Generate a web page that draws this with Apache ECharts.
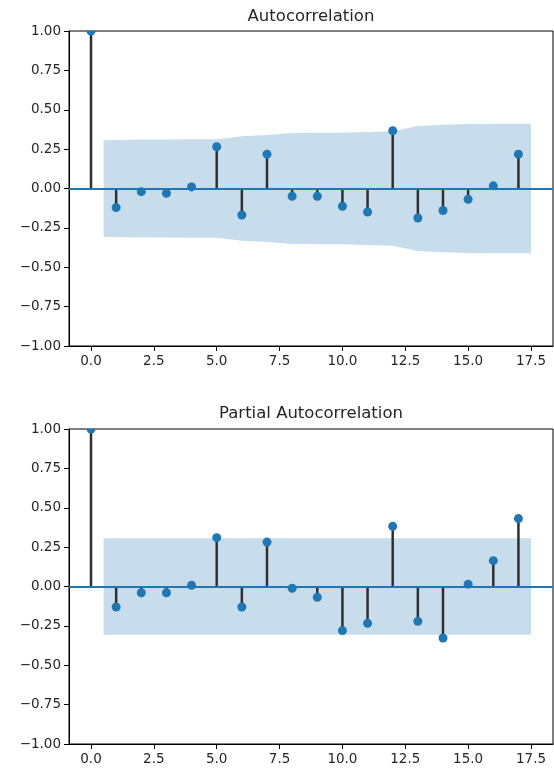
<!DOCTYPE html>
<html>
<head>
<meta charset="utf-8">
<script src="https://cdn.jsdelivr.net/npm/echarts@6/dist/echarts.min.js"></script>
<style>
  html, body { margin: 0; padding: 0; background: #fff; }
  #chart { width: 554px; height: 769px; }
</style>
</head>
<body>
<div id="chart"></div>
<script>
// Lags shown on both panels
const lags = [0, 1, 2, 3, 4, 5, 6, 7, 8, 9, 10, 11, 12, 13, 14, 15, 16, 17];

// Sample autocorrelation per lag
const acfValues = [1.0, -0.121, -0.02, -0.03, 0.01, 0.265, -0.168, 0.218, -0.049, -0.049,
                   -0.113, -0.149, 0.367, -0.187, -0.14, -0.068, 0.017, 0.218];

// Sample partial autocorrelation per lag
const pacfValues = [1.0, -0.13, -0.04, -0.04, 0.008, 0.31, -0.13, 0.282, -0.011, -0.068,
                    -0.28, -0.234, 0.382, -0.221, -0.327, 0.015, 0.164, 0.431];

// Confidence band positions (first and last lag widened by half a step)
const bandX = [0.5, 2, 3, 4, 5, 6, 7, 8, 9, 10, 11, 12, 13, 14, 15, 16, 17.5];

// 95% confidence band around zero for the ACF
const acfBandUpper = [0.307, 0.311, 0.311, 0.312, 0.312, 0.332, 0.340, 0.353, 0.354,
                      0.354, 0.358, 0.363, 0.397, 0.405, 0.410, 0.411, 0.411];
const acfBandLower = [-0.307, -0.311, -0.311, -0.312, -0.312, -0.332, -0.340, -0.353, -0.354,
                      -0.354, -0.358, -0.363, -0.397, -0.405, -0.410, -0.411, -0.411];

// 95% confidence band around zero for the PACF
const pacfBandUpper = [0.307, 0.307, 0.307, 0.307, 0.307, 0.307, 0.307, 0.307, 0.307,
                       0.307, 0.307, 0.307, 0.307, 0.307, 0.307, 0.307, 0.307];
const pacfBandLower = [-0.307, -0.307, -0.307, -0.307, -0.307, -0.307, -0.307, -0.307, -0.307,
                       -0.307, -0.307, -0.307, -0.307, -0.307, -0.307, -0.307, -0.307];

// Axis ticks
const xTicks = [0, 2.5, 5, 7.5, 10, 12.5, 15, 17.5];
const yTicks = [-1, -0.75, -0.5, -0.25, 0, 0.25, 0.5, 0.75, 1];

const panelTitles = ['Autocorrelation', 'Partial Autocorrelation'];

const FONT = '"DejaVu Sans", Verdana, sans-serif';
const BLUE = '#1f77b4';
const BAND = 'rgba(31,119,180,0.25)';
const STEM = '#2f2f2f';
const TEXT = '#262626';

const fmtNum = (v, d) => {
  const s = Math.abs(v).toFixed(d);
  return v < 0 ? '\u2212' + s : s;
};

const grids = [
  { left: 69, right: 1, top: 31, height: 315 },
  { left: 69, right: 1, top: 429, height: 315 }
];

function xAxisFor(i) {
  return {
    type: 'value', gridIndex: i, min: -0.875, max: 18.375,
    splitLine: { show: false },
    axisLine: { show: true, onZero: false, lineStyle: { color: '#000', width: 1 } },
    axisTick: { show: true, length: 5, customValues: xTicks, lineStyle: { color: '#000', width: 1 } },
    axisLabel: {
      customValues: xTicks, margin: 8, color: TEXT, fontFamily: FONT, fontSize: 13.5,
      formatter: v => fmtNum(v, 1)
    }
  };
}

function yAxisFor(i) {
  return {
    type: 'value', gridIndex: i, min: -1, max: 1, interval: 0.25,
    splitLine: { show: false },
    axisLine: { show: true, onZero: false, lineStyle: { color: '#000', width: 1 } },
    axisTick: { show: true, length: 5, lineStyle: { color: '#000', width: 1 } },
    axisLabel: {
      margin: 8, color: TEXT, fontFamily: FONT, fontSize: 13.5,
      formatter: v => fmtNum(v, 2)
    }
  };
}

function bandSeries(i, values) {
  return {
    type: 'line', xAxisIndex: i, yAxisIndex: i, z: 1,
    data: bandX.map((x, k) => [x, values[k]]),
    showSymbol: false, symbol: 'none', silent: true,
    lineStyle: { width: 0, opacity: 0 },
    areaStyle: { color: BAND, opacity: 1, origin: 0 }
  };
}

function stemSeries(i, values) {
  return {
    type: 'custom', xAxisIndex: i, yAxisIndex: i, z: 2, clip: true, silent: true,
    data: lags.map((l, k) => [l, values[k]]),
    renderItem(params, api) {
      const x = api.value(0), y = api.value(1);
      const p0 = api.coord([x, 0]);
      const p1 = api.coord([x, y]);
      return {
        type: 'line',
        shape: { x1: p0[0], y1: p0[1], x2: p1[0], y2: p1[1] },
        style: { stroke: STEM, lineWidth: 2.5 }
      };
    }
  };
}

function zeroLineSeries(i) {
  return {
    type: 'line', xAxisIndex: i, yAxisIndex: i, z: 3, silent: true,
    data: [], symbol: 'none',
    markLine: {
      silent: true, symbol: 'none', animation: false,
      label: { show: false },
      lineStyle: { color: BLUE, width: 2, type: 'solid' },
      data: [{ yAxis: 0 }]
    }
  };
}

function dotSeries(i, values) {
  return {
    type: 'custom', xAxisIndex: i, yAxisIndex: i, z: 4, clip: true, silent: true,
    data: lags.map((l, k) => [l, values[k]]),
    renderItem(params, api) {
      const p = api.coord([api.value(0), api.value(1)]);
      return {
        type: 'circle',
        shape: { cx: p[0], cy: p[1], r: 4.5 },
        style: { fill: BLUE }
      };
    }
  };
}

const titleCenters = [17, 414];

const option = {
  animation: false,
  backgroundColor: '#fff',
  grid: grids.map(g => Object.assign({ show: true, borderColor: '#000', borderWidth: 1, backgroundColor: 'transparent' }, g)),
  xAxis: [xAxisFor(0), xAxisFor(1)],
  yAxis: [yAxisFor(0), yAxisFor(1)],
  graphic: panelTitles.map((t, i) => ({
    type: 'text', x: 311, y: titleCenters[i], z: 10,
    style: {
      text: t, align: 'center', verticalAlign: 'middle',
      font: '16.5px ' + FONT, fill: TEXT
    }
  })),
  series: [
    bandSeries(0, acfBandUpper), bandSeries(0, acfBandLower),
    stemSeries(0, acfValues), zeroLineSeries(0), dotSeries(0, acfValues),
    bandSeries(1, pacfBandUpper), bandSeries(1, pacfBandLower),
    stemSeries(1, pacfValues), zeroLineSeries(1), dotSeries(1, pacfValues)
  ]
};

const chart = echarts.init(document.getElementById('chart'), null, { renderer: 'canvas' });
chart.setOption(option);
</script>
</body>
</html>
